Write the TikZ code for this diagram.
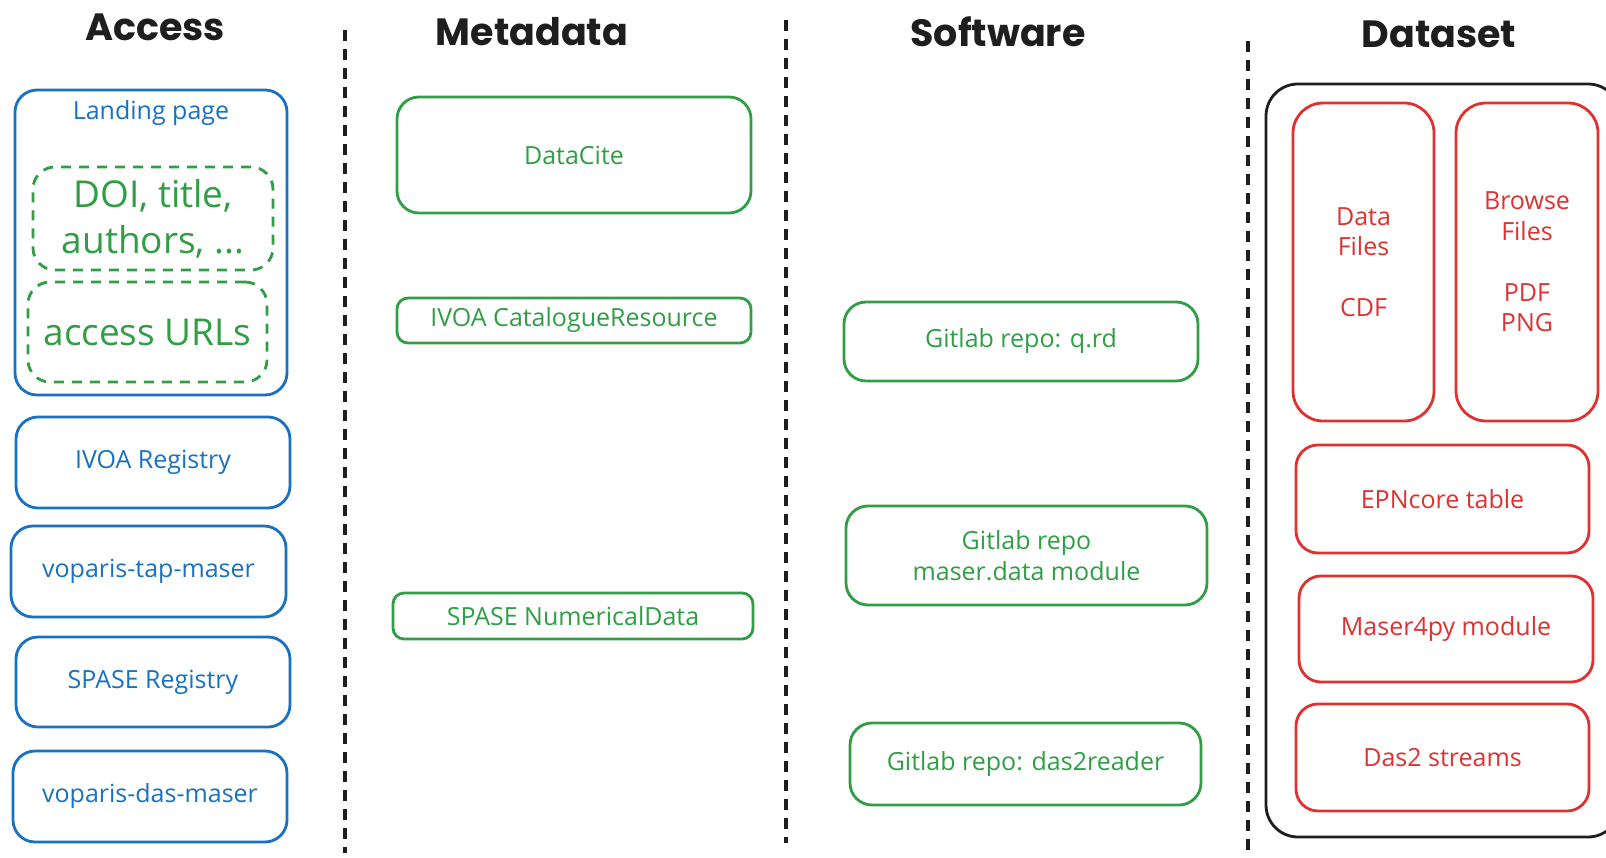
\documentclass[tikz,border=0pt]{standalone}
\usepackage{fontspec}
\setmainfont{Open Sans}
\newfontfamily\titlefont{Poppins}
\definecolor{accessblue}{HTML}{1971C2}
\definecolor{metagreen}{HTML}{2F9E44}
\definecolor{datared}{HTML}{E03131}
\definecolor{inkblack}{HTML}{1E1E1E}

\begin{document}
\begin{tikzpicture}
[x=1pt,y=-1pt,
column title/.style={font=\titlefont\bfseries\fontsize{38}{46}\selectfont,text=inkblack},
entry box/.style={draw,line width=2.8pt,rounded corners=22pt,inner sep=0pt,align=center,font=\fontsize{25}{30.5}\selectfont},
access box/.style={entry box,draw=accessblue,text=accessblue},
access text/.style={text=accessblue,font=\fontsize{25}{30.5}\selectfont},
green box/.style={entry box,draw=metagreen,text=metagreen},
thin box/.style={green box,rounded corners=11pt},
dashed box/.style={green box,dash pattern=on 10pt off 8pt,font=\fontsize{37}{46}\selectfont},
data box/.style={entry box,draw=datared,text=datared},
outer box/.style={draw=inkblack,line width=2.8pt,rounded corners=32pt},
separator/.style={draw=inkblack,line width=3.2pt,dash pattern=on 11pt off 8pt}]

\fill[white] (0,0) rectangle (1606,858);
\clip (0,0) rectangle (1606,858);

% column titles
\node[column title] (accesstitle) at (155,27) {Access};
\node[column title] (metatitle) at (532,32) {Metadata};
\node[column title] (softtitle) at (998,32) {Software};
\node[column title] (datatitle) at (1439,34) {Dataset};

% separators
\coordinate (sepa top) at (345,30);
\coordinate (sepa bottom) at (345,853);
\coordinate (sepb top) at (786,20);
\coordinate (sepb bottom) at (786,843);
\coordinate (sepc top) at (1248,41);
\coordinate (sepc bottom) at (1248,858);
\draw[separator] (sepa top) -- (sepa bottom);
\draw[separator] (sepb top) -- (sepb bottom);
\draw[separator] (sepc top) -- (sepc bottom);

% access
\node[access box,minimum width=272pt,minimum height=305pt] (landing) at (151,242.5) {};
\node[access text] (landingtitle) at (151,113) {Landing page};
\node[dashed box,minimum width=240pt,minimum height=103pt] (doi) at (153,218.5) {DOI, title,\\authors, ...};
\node[dashed box,minimum width=239pt,minimum height=100pt] (urls) at (147.5,332) {access URLs};
\node[access box,minimum width=274pt,minimum height=91pt] (ivoareg) at (153,462.5) {IVOA Registry};
\node[access box,minimum width=275pt,minimum height=91pt] (tapmaser) at (148.5,571.5) {voparis-tap-maser};
\node[access box,minimum width=274pt,minimum height=90pt] (spasereg) at (153,682) {SPASE Registry};
\node[access box,minimum width=274pt,minimum height=91pt] (dasmaser) at (150,796.5) {voparis-das-maser};

% metadata
\node[green box,minimum width=354pt,minimum height=116pt] (datacite) at (574,155) {DataCite};
\node[thin box,minimum width=354pt,minimum height=45pt] (ivoacat) at (574,320.5) {IVOA CatalogueResource};
\node[thin box,minimum width=360pt,minimum height=46pt] (spasenum) at (573,616) {SPASE NumericalData};

% software
\node[green box,minimum width=354pt,minimum height=79pt] (qrd) at (1021,341.5) {Gitlab repo: q.rd};
\node[green box,minimum width=361pt,minimum height=99pt] (maserdata) at (1026.5,555.5) {Gitlab repo\\maser.data module};
\node[green box,minimum width=351pt,minimum height=82pt] (dasreader) at (1025.5,764) {Gitlab repo: das2reader};

% dataset
\draw[outer box] (1266,84) rectangle (1620,837);
\node[data box,rounded corners=30pt,minimum width=141pt,minimum height=318pt] (datafiles) at (1363.5,262) {Data\\Files\\[30.5pt]CDF};
\node[data box,rounded corners=30pt,minimum width=142pt,minimum height=318pt] (browsefiles) at (1527,262) {Browse\\Files\\[30.5pt]PDF\\PNG};
\node[data box,minimum width=293pt,minimum height=108pt] (epncore) at (1442.5,499) {EPNcore table};
\node[data box,minimum width=294pt,minimum height=106pt] (maserpy) at (1446,629) {Maser4py module};
\node[data box,minimum width=293pt,minimum height=107pt] (dasstreams) at (1442.5,757.5) {Das2 streams};
\end{tikzpicture}
\end{document}
